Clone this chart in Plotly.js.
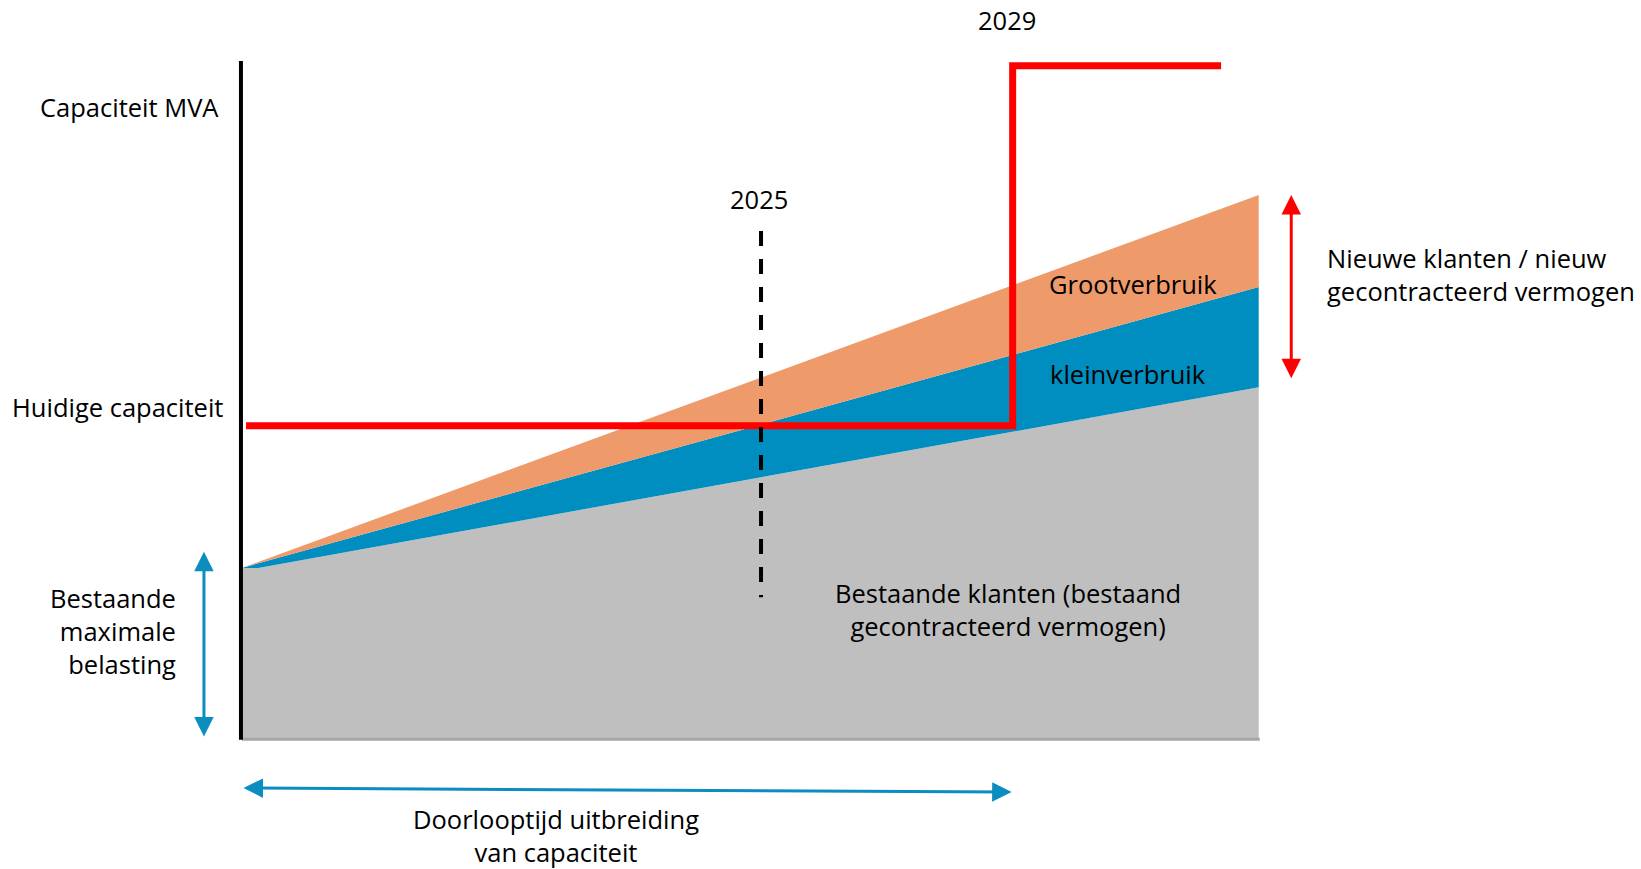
<!DOCTYPE html>
<html><head><meta charset="utf-8">
<script src="https://cdn.plot.ly/plotly-3.0.1.min.js"></script>
<style>html,body{margin:0;padding:0;background:#fff}#chart{width:1641px;height:869px}</style>
</head><body><div id="chart"></div>
<script>
// Time (arbitrary units: 0 = now, 100 = end of horizon)
const tijd = [0, 1.6, 100];
// Capacity demand (arbitrary MVA units, stacked)
const bestaandeKlanten = [25.1, 25.1, 51.8];
const kleinverbruik = [0, 0.7, 14.8];
const grootverbruik = [0, 0.2, 13.6];

// Available grid capacity (step up in 2029)
const capaciteitTijd = [0.4, 75.8, 96.3];
const capaciteit = [46.1, 99.3, 99.3];

// 2025 marker
const peilTijd = [51.05, 51.05];
const peilWaarde = [74.9, 20.8];

const FONT = 'Open Sans, Lato, sans-serif';
const txt = {family: FONT, size: 25.5, color: '#000'};

const traces = [
  {x: tijd, y: bestaandeKlanten, stackgroup: 'v', mode: 'none', fillcolor: '#BFBFBF', name: 'Bestaande klanten', hoverinfo: 'skip'},
  {x: tijd, y: kleinverbruik, stackgroup: 'v', mode: 'none', fillcolor: '#008EC0', name: 'kleinverbruik', hoverinfo: 'skip'},
  {x: tijd, y: grootverbruik, stackgroup: 'v', mode: 'none', fillcolor: '#EE9A6A', name: 'Grootverbruik', hoverinfo: 'skip'},
  {x: capaciteitTijd, y: capaciteit, mode: 'lines', line: {color: '#FF0000', width: 7, shape: 'hv'}, name: 'Capaciteit', hoverinfo: 'skip'},
  {x: peilTijd, y: peilWaarde, mode: 'lines', line: {color: '#000', width: 4, dash: '15px,13px'}, name: '2025', hoverinfo: 'skip'}
];

function arrow(x0, y0, x1, y1, color) {
  return {x: x1, y: y1, ax: x0, ay: y0, xref: 'x', yref: 'y', axref: 'x', ayref: 'y',
    text: '', showarrow: true, arrowhead: 2, startarrowhead: 2, arrowside: 'end+start',
    arrowsize: 1.3, startarrowsize: 1.3, arrowwidth: 3, arrowcolor: color, standoff: 0, startstandoff: 0};
}
function label(x, y, text, xanchor, align) {
  return {x: x, y: y, xref: 'x', yref: 'y', text: text, showarrow: false, font: txt,
    xanchor: xanchor || 'center', yanchor: 'middle', align: align || 'center'};
}

const layout = {
  width: 1641, height: 869,
  margin: {l: 0, r: 0, t: 0, b: 0, pad: 0},
  paper_bgcolor: '#fff', plot_bgcolor: '#fff',
  showlegend: false,
  xaxis: {range: [-23.8, 137.6], visible: false, fixedrange: true},
  yaxis: {range: [-19.35, 109.0], visible: false, fixedrange: true},
  shapes: [
    {type: 'line', xref: 'x', yref: 'y', x0: 0, x1: 100.1, y0: -0.2, y1: -0.2, line: {color: '#A6A6A6', width: 3}},
    {type: 'line', xref: 'x', yref: 'y', x0: -0.1, x1: -0.1, y0: -0.25, y1: 100.0, line: {color: '#000', width: 4}}
  ],
  annotations: [
    label(-2.07, 93.2, 'Capaciteit MVA', 'right', 'right'),
    label(-1.67, 48.9, 'Huidige capaciteit', 'right', 'right'),
    label(-6.3, 15.8, 'Bestaande<br>maximale<br>belasting', 'right', 'right'),
    label(50.85, 79.6, '2025'),
    label(75.2, 106.1, '2029'),
    label(87.6, 67.1, 'Grootverbruik'),
    label(87.1, 53.8, 'kleinverbruik'),
    label(75.3, 19.05, 'Bestaande klanten (bestaand<br>gecontracteerd vermogen)'),
    label(106.5, 68.4, 'Nieuwe klanten / nieuw<br>gecontracteerd vermogen', 'left', 'left'),
    label(30.9, -14.35, 'Doorlooptijd uitbreiding<br>van capaciteit'),
    arrow(-3.74, 0.0, -3.74, 27.5, '#0B8DC0'),
    arrow(103.2, 52.9, 103.2, 80.2, '#FF0000'),
    arrow(0.0, -7.39, 75.7, -7.98, '#0B8DC0')
  ]
};

Plotly.newPlot('chart', traces, layout, {displayModeBar: false, staticPlot: true});
</script></body></html>
